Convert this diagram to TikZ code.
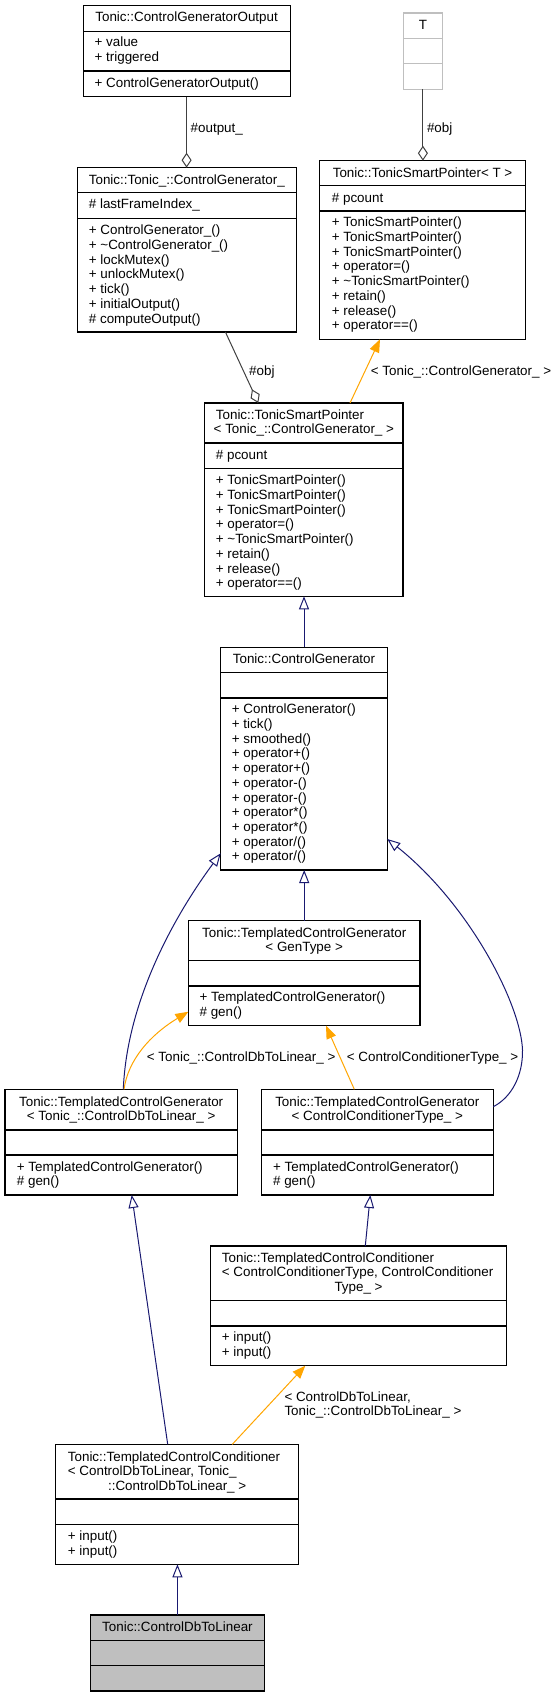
\documentclass[tikz,border=0pt]{standalone}
\usepackage{fontspec}
\setmainfont{Liberation Sans}
\usetikzlibrary{arrows.meta}
\definecolor{navyedge}{HTML}{191970}
\definecolor{orangeedge}{HTML}{FFA500}
\definecolor{useedge}{HTML}{404040}
\definecolor{grey75}{HTML}{BFBFBF}
% #1 name, #2 x1, #3 y1, #4 x2, #5 y2, #6 divider 1, #7 divider 2, #8 extra style
\newcommand\umlbox[8]{%
  \node[box,#8,minimum width={#4-#2}, minimum height={#5-#3}, anchor=north west] (#1) at (#2,#3) {};
  \draw[boxline,#8] (#2,#6) -- (#4,#6) (#2,#7) -- (#4,#7);}
% left aligned lines: #1 name prefix, #2 x, #3 centre y of first line, #4 list
\newcommand\llines[4]{%
  \foreach \s [count=\i] in {#4} {\node[txt,anchor=base west] (#1-\i) at (#2,{#3+4.5+14.7*(\i-1)}) {\s};}}
% centred line: #1 name, #2 x, #3 centre y, #4 text
\newcommand\ctext[4]{\node[txt,anchor=base] (#1) at (#2,{#3+4.5}) {#4};}
\begin{document}
\begin{tikzpicture}[x=1pt,y=-1pt,
  box/.style={draw=black, fill=white, line width=1.1pt, inner sep=0pt, outer sep=0pt},
  boxline/.style={line width=1.1pt},
  txt/.style={font=\fontsize{13.4pt}{14.7pt}\selectfont, inner sep=0pt, text=black},
  inh/.style={draw=navyedge, line width=1pt, -{Triangle[open, length=13pt, width=10pt, fill=white]}},
  tmpl/.style={draw=orangeedge, line width=1pt, -{Triangle[length=13pt, width=10pt, fill=orangeedge]}},
  use/.style={draw=useedge, line width=1pt, -{Diamond[open, length=15pt, width=10pt, fill=white]}}]
\useasboundingbox (0,0) rectangle (552,1697);

% ControlGeneratorOutput
\umlbox{A}{83.1}{5.7}{290.1}{96.7}{31.3}{71}{}
\ctext{A-t}{186.6}{17.3}{Tonic::ControlGeneratorOutput}
\llines{A-a}{94.4}{42.3}{+ value, + triggered}
\llines{A-m}{94.4}{82.7}{+ ControlGeneratorOutput()}

% T
\umlbox{T}{403.5}{13}{442.3}{89.3}{38.7}{63.7}{draw=grey75}
\ctext{T-t}{422.9}{24.7}{T}

% ControlGenerator_
\umlbox{B}{77.1}{167.7}{296.5}{332}{192.7}{218.7}{}
\ctext{B-t}{186.8}{179.7}{Tonic::Tonic\_::ControlGenerator\_}
\llines{B-a}{88.7}{204.3}{\# lastFrameIndex\_}
\llines{B-m}{88.7}{230.3}{+ ControlGenerator\_(), + \textasciitilde ControlGenerator\_(), + lockMutex(), + unlockMutex(), + tick(), + initialOutput(), \# computeOutput()}

% TonicSmartPointer< T >
\umlbox{C}{319.7}{160.7}{525.4}{339.3}{185.7}{211}{}
\ctext{C-t}{422.55}{172.7}{Tonic::TonicSmartPointer< T >}
\llines{C-a}{331.7}{197.7}{\# pcount}
\llines{C-m}{331.7}{222.3}{+ TonicSmartPointer(), + TonicSmartPointer(), + TonicSmartPointer(), + operator=(), + \textasciitilde TonicSmartPointer(), + retain(), + release(), + operator==()}

% TonicSmartPointer< Tonic_::ControlGenerator_ >
\umlbox{D}{204.7}{403}{403}{596.3}{443}{468.3}{}
\llines{D-t}{215.7}{414.7}{Tonic::TonicSmartPointer}
\ctext{D-t2}{303.85}{429.4}{< Tonic\_::ControlGenerator\_ >}
\llines{D-a}{215.7}{454.7}{\# pcount}
\llines{D-m}{215.7}{480.3}{+ TonicSmartPointer(), + TonicSmartPointer(), + TonicSmartPointer(), + operator=(), + \textasciitilde TonicSmartPointer(), + retain(), + release(), + operator==()}

% ControlGenerator
\umlbox{E}{220.7}{647.3}{387.3}{870}{672.3}{698}{}
\ctext{E-t}{304}{658.7}{Tonic::ControlGenerator}
\llines{E-m}{231.7}{709.3}{+ ControlGenerator(), + tick(), + smoothed(), + operator+(), + operator+(), + operator-(), + operator-(), + operator*(), + operator*(), {+ operator/()}, {+ operator/()}}

% TemplatedControlGenerator< GenType >
\umlbox{F}{188.4}{920.7}{420}{1025.7}{960.7}{986}{}
\ctext{F-t1}{304.2}{932.5}{Tonic::TemplatedControlGenerator}
\ctext{F-t2}{304.2}{947.2}{< GenType >}
\llines{F-m}{199.4}{997.3}{+ TemplatedControlGenerator(), \# gen()}

% TemplatedControlGenerator< Tonic_::ControlDbToLinear_ >
\umlbox{G}{5}{1089.3}{237.3}{1195}{1130}{1155}{}
\ctext{G-t1}{121.15}{1101.7}{Tonic::TemplatedControlGenerator}
\ctext{G-t2}{121.15}{1116.4}{< Tonic\_::ControlDbToLinear\_ >}
\llines{G-m}{16.7}{1166.7}{+ TemplatedControlGenerator(), \# gen()}

% TemplatedControlGenerator< ControlConditionerType_ >
\umlbox{H}{261.3}{1089.3}{493.3}{1195}{1130}{1155}{}
\ctext{H-t1}{377.3}{1101.7}{Tonic::TemplatedControlGenerator}
\ctext{H-t2}{377.3}{1116.4}{< ControlConditionerType\_ >}
\llines{H-m}{272.9}{1166.7}{+ TemplatedControlGenerator(), \# gen()}

% TemplatedControlConditioner< ControlConditionerType, ControlConditionerType_ >
\umlbox{I}{210.6}{1246}{506.5}{1365.7}{1300.3}{1326}{}
\llines{I-t}{221.7}{1257.7}{Tonic::TemplatedControlConditioner, {< ControlConditionerType, ControlConditioner}}
\ctext{I-t3}{358.55}{1287.1}{Type\_ >}
\llines{I-m}{221.7}{1337.3}{+ input(), + input()}

% TemplatedControlConditioner< ControlDbToLinear, Tonic_::ControlDbToLinear_ >
\umlbox{K}{55.7}{1444.3}{298.6}{1564.3}{1499}{1524.3}{}
\llines{K-t}{67.7}{1456.7}{Tonic::TemplatedControlConditioner, {< ControlDbToLinear, Tonic\_}}
\ctext{K-t3}{177.15}{1486.1}{::ControlDbToLinear\_ >}
\llines{K-m}{67.7}{1536}{+ input(), + input()}

% ControlDbToLinear
\umlbox{L}{90.1}{1615}{264.8}{1691}{1640.7}{1665.7}{fill=grey75}
\ctext{L-t}{177.45}{1626.7}{Tonic::ControlDbToLinear}

% connectors
\draw[use] (A.south) -- (A.south |- B.north);
\draw[use] (T.south) -- (T.south |- C.north);
\draw[use] ([xshift=38.6pt]B.south) -- ([xshift=-45.55pt]D.north);
\draw[tmpl] ([xshift=46.15pt]D.north) -- ([xshift=-42.55pt]C.south);
\draw[inh] (E.north) -- (E.north |- D.south);
\draw[inh] (F.north) -- (F.north |- E.south);
\draw[inh] ([xshift=2.15pt]G.north) .. controls (127,1000) and (175,915) .. ([yshift=-94.65pt]E.west);
\draw[inh] ([yshift=35.45pt]H.east) .. controls (512,1097) and (523,1075) .. (522.5,1050) .. controls (521,1005) and (470,905) .. ([yshift=-80.35pt]E.east);
\draw[tmpl] ([xshift=2.85pt]G.north) .. controls (128,1060) and (150,1035) .. ([yshift=-38.5pt]F.west);
\draw[tmpl] ([xshift=-23pt]H.north) -- ([xshift=21.8pt]F.south);
\draw[inh] ([xshift=6.75pt]I.north) -- ([xshift=-7pt]H.south);
\draw[inh] ([xshift=-9.45pt]K.north) -- ([xshift=10.55pt]G.south);
\draw[tmpl] ([xshift=55.15pt]K.north) -- ([xshift=-53.25pt]I.south);
\draw[inh] (L.north) -- (L.north |- K.south);

% connector labels
\node[txt,anchor=base west] (lab1) at (190.5,132.2) {\#output\_};
\node[txt,anchor=base west] (lab2) at (426.8,132.2) {\#obj};
\node[txt,anchor=base west] (lab3) at (249,375.5) {\#obj};
\node[txt,anchor=base west] (lab4) at (370.7,375.5) {< Tonic\_::ControlGenerator\_ >};
\node[txt,anchor=base west] (lab5) at (146.7,1061.2) {< Tonic\_::ControlDbToLinear\_ >};
\node[txt,anchor=base west] (lab6) at (346.7,1061.2) {< ControlConditionerType\_ >};
\node[txt,anchor=base west] (lab7) at (284.3,1401.2) {< ControlDbToLinear,};
\node[txt,anchor=base west] (lab8) at (284.3,1415.9) {Tonic\_::ControlDbToLinear\_ >};
\end{tikzpicture}
\end{document}
